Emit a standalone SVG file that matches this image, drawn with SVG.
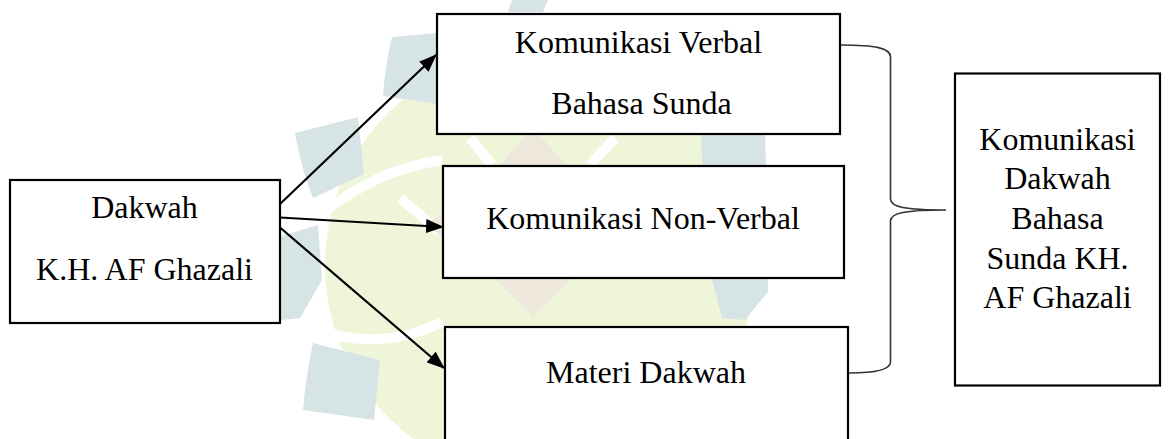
<svg xmlns="http://www.w3.org/2000/svg" width="1168" height="439" viewBox="0 0 1168 439">
  <style>
    .box { fill: #ffffff; stroke: #000000; stroke-width: 2.2; }
    .lbl { font-family: "Liberation Serif", "Times New Roman", serif; font-size: 32px; fill: #000000; text-anchor: middle; }
    .arrow { fill: none; stroke: #000000; stroke-width: 2.2; marker-end: url(#ah); }
    .brace { fill: none; stroke: #333333; stroke-width: 1.6; }
    .wm-blue { fill: #d7e4e5; }
    .wm-yel { fill: #eff5d8; }
    .wm-gap { fill: none; stroke: #ffffff; stroke-width: 10; }
    .wm-star { fill: #eee8dc; }
  </style>
  <defs>
    <marker id="ah" markerUnits="userSpaceOnUse" markerWidth="18" markerHeight="14" refX="17" refY="7" orient="auto">
      <path d="M0,0 L18,7 L0,14 Z" fill="#000000"/>
    </marker>
  </defs>
  <rect x="0" y="0" width="1168" height="439" fill="#ffffff"/>

  <g id="watermark">
    <circle class="wm-yel" cx="540" cy="265" r="215"/>
    <path class="wm-gap" d="M 322,214 Q 375,170 442,160"/>
    <path class="wm-gap" d="M 318,330 Q 380,352 442,322"/>
    <path class="wm-gap" d="M 400,198 L 440,232" stroke-width="6"/>
    <path class="wm-gap" d="M 470,138 L 492,165" stroke-width="4"/>
    <path class="wm-gap" d="M 590,165 L 615,138" stroke-width="4"/>
    <polygon class="wm-star" points="533,128 578,178 640,225 578,272 533,316 488,272 426,225 488,178"/>
    <path class="wm-blue" d="M 392,37 L 437,33 L 437,104 L 383,96 Q 385,65 392,37 Z"/>
    <path class="wm-blue" d="M 295,133 L 358,117 L 364,174 L 313,198 Q 300,165 295,133 Z"/>
    <path class="wm-blue" d="M 281,236 L 318,225 L 322,280 L 300,318 L 281,320 Z"/>
    <path class="wm-blue" d="M 313,343 L 380,360 L 374,420 L 303,410 Q 306,375 313,343 Z"/>
    <path class="wm-blue" d="M 505,433 L 550,428 L 552,439 L 503,439 Z"/>
    <path class="wm-blue" d="M 512,0 L 548,0 L 543,12 L 508,12 Z"/>
    <path class="wm-blue" d="M 700,125 L 765,118 L 768,292 L 745,320 L 722,318 L 712,280 Q 704,200 700,125 Z"/>
  </g>

  <g id="node-dakwah">
    <rect class="box" x="10" y="180" width="270" height="143"/>
    <text class="lbl" x="144.5" y="218">Dakwah</text>
    <text class="lbl" x="144.5" y="280">K.H. AF Ghazali</text>
  </g>

  <g id="node-verbal">
    <rect class="box" x="437" y="14" width="403" height="120"/>
    <text class="lbl" x="638.5" y="53">Komunikasi Verbal</text>
    <text class="lbl" x="641.5" y="113.5">Bahasa Sunda</text>
  </g>

  <g id="node-nonverbal">
    <rect class="box" x="443" y="166" width="401" height="112"/>
    <text class="lbl" x="643" y="229">Komunikasi Non-Verbal</text>
  </g>

  <g id="node-materi">
    <rect class="box" x="445" y="327" width="403" height="130"/>
    <text class="lbl" x="646" y="383">Materi Dakwah</text>
  </g>

  <g id="node-result">
    <rect class="box" x="955" y="73.5" width="205" height="312"/>
    <text class="lbl" x="1057.5" y="149.5">Komunikasi</text>
    <text class="lbl" x="1057.5" y="189.2">Dakwah</text>
    <text class="lbl" x="1057.5" y="228.9">Bahasa</text>
    <text class="lbl" x="1057.5" y="268.6">Sunda KH.</text>
    <text class="lbl" x="1057.5" y="308.3">AF Ghazali</text>
  </g>

  <g id="connectors">
    <path class="arrow" d="M 280,204 L 436,55"/>
    <path class="arrow" d="M 280,217.5 L 443,227"/>
    <path class="arrow" d="M 280,227.5 L 444,368"/>
    <path class="brace" d="M 841,45 C 875,45 890.5,48 890.5,57 L 890.5,199 C 890.5,207 905,210 946,210 C 905,210 890.5,213 890.5,221 L 890.5,362 C 890.5,370 875,373 849,373"/>
  </g>
</svg>
